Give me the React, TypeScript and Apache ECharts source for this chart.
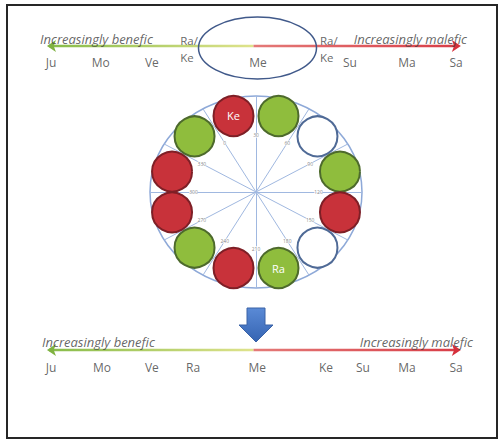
import React, { useEffect, useRef } from 'react';
import * as echarts from 'echarts';

// ---------- data ----------
const scaleTitles = ['Increasingly benefic', 'Increasingly malefic'];
// position on the benefic (0) -> malefic (100) scale
const topNames = ['Ju', 'Mo', 'Ve', 'Me', 'Su', 'Ma', 'Sa'];
const topScores = [0, 12.3, 24.9, 51.1, 73.8, 87.9, 100];
const topNodeNames = ['Ra/\nKe', 'Ra/\nKe'];
const topNodeScores = [31.9, 66.4];
const bottomNames = ['Ju', 'Mo', 'Ve', 'Ra', 'Me', 'Ke', 'Su', 'Ma', 'Sa'];
const bottomScores = [0, 12.6, 24.9, 35.1, 50.9, 67.9, 77.0, 87.9, 100];
const scaleEnds = [-1, 50, 101.2]; // benefic end, middle, malefic end

// wheel: circles at angles (deg clockwise from top)
const circleAngles = [345, 15, 45, 75, 105, 135, 165, 195, 225, 255, 285, 315];
const circleKinds = ['malefic', 'benefic', 'neutral', 'benefic', 'malefic', 'neutral', 'benefic', 'malefic', 'benefic', 'malefic', 'malefic', 'benefic'];
const circleNames = ['Ke', '', '', '', '', '', 'Ra', '', '', '', '', ''];
const degreeTicks = [0, 30, 60, 90, 120, 150, 180, 210, 240, 270, 300, 330];

// ---------- layout / style ----------
const W = 498;
const H = 441;
const SCALE_LEFT = 51;
const SCALE_RIGHT = 456;
const TOP = { title: 39, line: 46, label: 62, nodeTop: 39 };
const BOTTOM = { title: 342, line: 350, label: 367 };
const TITLE_X = { leftTop: 40, rightTop: 467, leftBottom: 42, rightBottom: 473 };
const WHEEL = { cx: 256, cy: 192, rx: 106, ry: 96 };
const ORBIT_R = 0.82;
const TICK_R = 0.59;
const CIRCLE_SIZE = 40;
const FONT = 'Open Sans';
const TEXT_COLOR = '#404040';

const KIND_STYLE: Record<string, { color: string; borderColor: string }> = {
  benefic: { color: '#8fbd3d', borderColor: '#4d6a2c' },
  malefic: { color: '#c8323a', borderColor: '#7e1f26' },
  neutral: { color: '#ffffff', borderColor: '#4f6a96' },
};

const pxToScore = (px: number) => ((px - SCALE_LEFT) / (SCALE_RIGHT - SCALE_LEFT)) * 100;
const scoreToPx = (s: number) => SCALE_LEFT + (s / 100) * (SCALE_RIGHT - SCALE_LEFT);
const rad = (d: number) => (d * Math.PI) / 180;

function scaleSeries(lineY: number, labelY: number, titleY: number, names: string[], scores: number[], tl: number, tr: number) {
  const x0 = scoreToPx(scaleEnds[0]);
  const x1 = scoreToPx(scaleEnds[1]);
  const x2 = scoreToPx(scaleEnds[2]);
  const greenGrad = new echarts.graphic.LinearGradient(x0, 0, x1, 0, [
    { offset: 0, color: '#86bb48' },
    { offset: 1, color: '#dfe38c' },
  ], true);
  const redGrad = new echarts.graphic.LinearGradient(x1, 0, x2, 0, [
    { offset: 0, color: '#e47a78' },
    { offset: 1, color: '#d83c46' },
  ], true);
  return [
    {
      type: 'line', xAxisIndex: 0, yAxisIndex: 0, silent: true, z: 3, clip: false,
      showSymbol: true, symbol: 'none',
      lineStyle: { width: 2.5, color: greenGrad },
      data: [
        { value: [scaleEnds[0], lineY], symbol: 'arrow', symbolSize: [9, 9], symbolRotate: 90, itemStyle: { color: '#7fb241' } },
        { value: [scaleEnds[1], lineY], symbol: 'none' },
      ],
    },
    {
      type: 'line', xAxisIndex: 0, yAxisIndex: 0, silent: true, z: 3, clip: false,
      showSymbol: true, symbol: 'none',
      lineStyle: { width: 2.5, color: redGrad },
      data: [
        { value: [scaleEnds[1], lineY], symbol: 'none' },
        { value: [scaleEnds[2], lineY], symbol: 'arrow', symbolSize: [9, 9], symbolRotate: -90, itemStyle: { color: '#d6303c' } },
      ],
    },
    {
      type: 'scatter', xAxisIndex: 0, yAxisIndex: 0, silent: true, symbolSize: 0, z: 4, clip: false,
      data: names.map((n, i) => ({ value: [scores[i], labelY], name: n })),
      label: {
        show: true, position: 'inside', formatter: '{b}', color: TEXT_COLOR,
        fontFamily: FONT, fontSize: 12, align: 'center', verticalAlign: 'middle',
      },
    },
    {
      type: 'scatter', xAxisIndex: 0, yAxisIndex: 0, silent: true, symbolSize: 0, z: 4, clip: false,
      data: [
        { value: [pxToScore(tl), titleY], name: scaleTitles[0], label: { show: true, align: 'left' } },
        { value: [pxToScore(tr), titleY], name: scaleTitles[1], label: { show: true, align: 'right' } },
      ],
      label: {
        show: true, position: 'inside', formatter: '{b}', color: TEXT_COLOR,
        fontFamily: FONT, fontSize: 13, fontStyle: 'italic', verticalAlign: 'middle',
      },
    },
  ];
}

export default function App() {
  const ref = useRef<HTMLDivElement>(null);
  useEffect(() => {
    document.body.style.margin = '0';
    if (!ref.current) return;
    const chart = echarts.init(ref.current, null, { renderer: 'svg' });

    const wheelLeft = WHEEL.cx - WHEEL.rx;
    const wheelTop = WHEEL.cy - WHEEL.ry;

    const option: any = {
      animation: false,
      backgroundColor: '#ffffff',
      grid: [
        { left: SCALE_LEFT, right: W - SCALE_RIGHT, top: 0, bottom: 0 },
        { left: wheelLeft, top: wheelTop, width: WHEEL.rx * 2, height: WHEEL.ry * 2 },
      ],
      xAxis: [
        { type: 'value', gridIndex: 0, min: 0, max: 100, show: false },
        { type: 'value', gridIndex: 1, min: -1, max: 1, show: false },
      ],
      yAxis: [
        { type: 'value', gridIndex: 0, min: 0, max: H, inverse: true, show: false },
        { type: 'value', gridIndex: 1, min: -1, max: 1, show: false },
      ],
      graphic: {
        elements: [
          {
            type: 'rect', z: 0,
            shape: { x: 7, y: 5, width: 490, height: 433 },
            style: { fill: 'transparent', stroke: '#262626', lineWidth: 2 },
          },
          {
            type: 'ellipse', z: 5,
            shape: { cx: 257.5, cy: 48, rx: 59, ry: 31 },
            style: { fill: 'transparent', stroke: '#40598a', lineWidth: 1.5 },
          },
          {
            type: 'ellipse', z: 0,
            shape: { cx: WHEEL.cx, cy: WHEEL.cy, rx: WHEEL.rx, ry: WHEEL.ry },
            style: { fill: 'transparent', stroke: '#8ea9d8', lineWidth: 1.5 },
          },
          {
            type: 'polygon', z: 5,
            shape: {
              points: [[247, 308], [265, 308], [265, 325], [273, 325], [256, 342], [239, 325], [247, 325]],
            },
            style: {
              fill: new echarts.graphic.LinearGradient(0, 0, 0, 1, [
                { offset: 0, color: '#5a8ad6' },
                { offset: 1, color: '#3564b2' },
              ]),
              stroke: '#3a62a6', lineWidth: 1,
            },
          },
        ],
      },
      series: [
        ...scaleSeries(TOP.line, TOP.label, TOP.title, topNames, topScores, TITLE_X.leftTop, TITLE_X.rightTop),
        {
          type: 'scatter', xAxisIndex: 0, yAxisIndex: 0, silent: true, symbolSize: 0, z: 4, clip: false,
          data: topNodeNames.map((n, i) => ({ value: [topNodeScores[i], TOP.nodeTop], name: n })),
          label: {
            show: true, position: 'inside', formatter: '{b}', color: TEXT_COLOR,
            fontFamily: FONT, fontSize: 11.5, align: 'left', verticalAlign: 'top',
            lineHeight: 17, padding: [-7, 0, 0, 0],
          },
        },
        ...scaleSeries(BOTTOM.line, BOTTOM.label, BOTTOM.title, bottomNames, bottomScores, TITLE_X.leftBottom, TITLE_X.rightBottom),
        // wheel spokes
        {
          type: 'lines', coordinateSystem: 'cartesian2d', xAxisIndex: 1, yAxisIndex: 1, silent: true, z: 1,
          lineStyle: { color: '#a0b8e0', width: 1, opacity: 1 },
          data: degreeTicks.map((t) => ({
            coords: [[0, 0], [Math.sin(rad(t - 30)), Math.cos(rad(t - 30))]],
          })),
        },
        // degree tick labels
        {
          type: 'scatter', xAxisIndex: 1, yAxisIndex: 1, silent: true, symbolSize: 0, z: 2,
          data: degreeTicks.map((t) => ({
            value: [TICK_R * Math.sin(rad(t - 30)), TICK_R * Math.cos(rad(t - 30))],
            name: String(t),
          })),
          label: {
            show: true, position: 'inside', formatter: '{b}', color: '#666666',
            fontFamily: FONT, fontSize: 5, backgroundColor: '#ffffff',
          },
        },
        // planet circles
        {
          type: 'scatter', xAxisIndex: 1, yAxisIndex: 1, silent: true, z: 3,
          symbol: 'circle', symbolSize: CIRCLE_SIZE,
          data: circleAngles.map((a, i) => ({
            value: [ORBIT_R * Math.sin(rad(a)), ORBIT_R * Math.cos(rad(a))],
            name: circleNames[i],
            itemStyle: { ...KIND_STYLE[circleKinds[i]], borderWidth: 2, opacity: 1 },
          })),
          label: {
            show: true, position: 'inside', formatter: '{b}', color: '#ffffff',
            fontFamily: FONT, fontSize: 11,
          },
        },
      ],
    };
    chart.setOption(option);
    return () => chart.dispose();
  }, []);
  return <div ref={ref} style={{ width: W, height: H }} />;
}
